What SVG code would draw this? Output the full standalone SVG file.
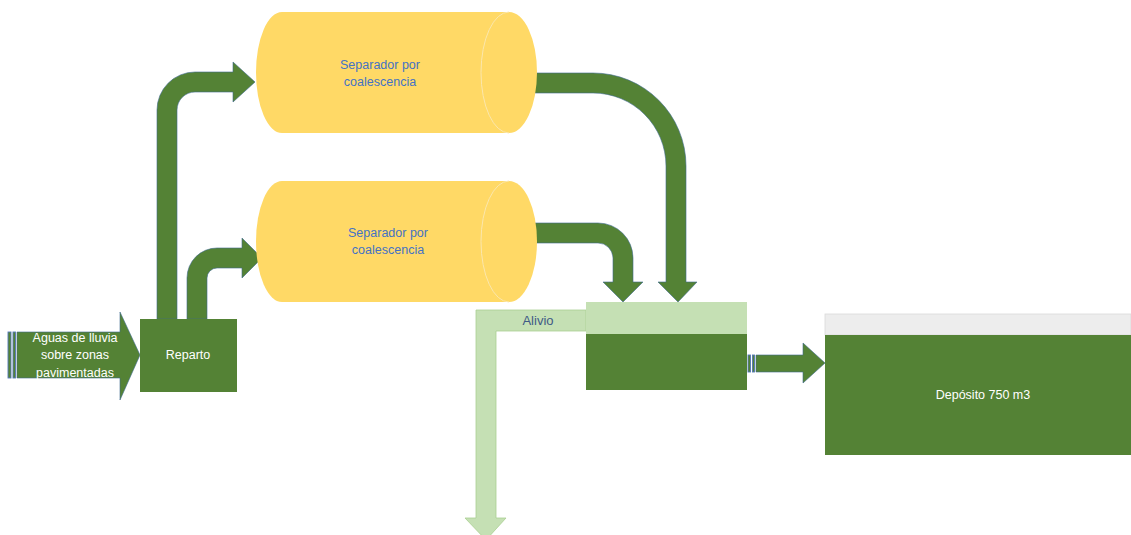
<svg xmlns="http://www.w3.org/2000/svg" width="1131" height="535" viewBox="0 0 1131 535">
<style>
.dk{fill:#548235;stroke:#3E6A8F;stroke-width:0.6}
.st{fill:#548235;stroke:#5478B8;stroke-width:0.9}
.box{fill:#548235}
.lt{fill:#C5E0B4;stroke:#A9CF92;stroke-width:0.8}
.cyl{fill:#FFD966}
.cap{fill:none;stroke:#FBE7AC;stroke-width:1}
.wt{font-family:"Liberation Sans",Arial,sans-serif;font-size:12.5px;fill:#FFFFFF;text-anchor:middle}
.bt{font-family:"Liberation Sans",Arial,sans-serif;font-size:12.5px;fill:#4472C4;text-anchor:middle}
.at{font-family:"Liberation Sans",Arial,sans-serif;font-size:13px;fill:#3F5A85;text-anchor:middle}
</style>
<rect width="1131" height="535" fill="#FFFFFF"/>
<g id="connectors">
<path class="dk" d="M 157 319 L 157 110 A 38 38 0 0 1 195 72 L 233 72 L 233 62 L 255 82 L 233 102 L 233 92 L 195 92 A 18 18 0 0 0 177 110 L 177 319 Z"/>
<path class="dk" d="M 187 319 L 187 278 A 30 30 0 0 1 217 248 L 242 248 L 242 238 L 262 258 L 242 278 L 242 268 L 217 268 A 10 10 0 0 0 207 278 L 207 319 Z"/>
<path class="dk" d="M 518 73 L 593 73 A 93 93 0 0 1 686 166 L 686 282 L 697 282 L 678 302 L 658 282 L 666 282 L 666 166 A 73 73 0 0 0 593 93 L 518 93 Z"/>
<path class="dk" d="M 517 223 L 598 223 A 35 35 0 0 1 633 258 L 633 282 L 643 282 L 623 302 L 603 282 L 613 282 L 613 258 A 15 15 0 0 0 598 243 L 517 243 Z"/>
<g id="alivio">
<path class="lt" d="M 586 310 L 476 310 L 476 518 L 465 518 L 486 540 L 506 518 L 496 518 L 496 331 L 586 331 Z"/>
<text class="at" x="538" y="325">Alivio</text>
</g>
<g id="salida">
<rect class="st" x="748" y="355" width="2.5" height="17"/>
<rect class="st" x="752.5" y="355" width="2" height="17"/>
<path class="dk" d="M 756 355 L 803 355 L 803 343 L 825 363 L 803 383 L 803 372 L 756 372 Z"/>
</g>
</g>
<g id="entrada">
<rect class="st" x="8" y="332" width="3" height="46"/>
<rect class="st" x="13" y="332" width="2.5" height="46"/>
<path class="dk" d="M 17 332 L 120 332 L 120 312 L 140 355 L 120 400 L 120 378 L 17 378 Z"/>
<text class="wt" x="75" y="342">Aguas de lluvia</text>
<text class="wt" x="75" y="359">sobre zonas</text>
<text class="wt" x="75" y="377">pavimentadas</text>
</g>
<g id="reparto">
<rect class="box" x="140" y="319" width="97" height="73"/>
<text class="wt" x="188" y="359">Reparto</text>
</g>
<g id="separador1">
<path class="cyl" d="M 282 12 L 509 12 A 28 60.5 0 0 1 509 133 L 282 133 A 26 60.5 0 0 1 282 12 Z"/>
<path class="cap" d="M 509 12 A 28 60.5 0 0 0 509 133"/>
<text class="bt" x="380" y="69">Separador por</text>
<text class="bt" x="380" y="86">coalescencia</text>
</g>
<g id="separador2">
<path class="cyl" d="M 282 181 L 509 181 A 28 60.5 0 0 1 509 302 L 282 302 A 26 60.5 0 0 1 282 181 Z"/>
<path class="cap" d="M 509 181 A 28 60.5 0 0 0 509 302"/>
<text class="bt" x="388" y="237">Separador por</text>
<text class="bt" x="388" y="254">coalescencia</text>
</g>
<g id="arqueta">
<rect x="586" y="302" width="161" height="32" fill="#C5E0B4"/>
<rect class="box" x="586" y="334" width="161" height="56"/>
</g>
<g id="deposito">
<rect x="825" y="314" width="306" height="21" fill="#EDEDED" stroke="#D9D9D9" stroke-width="0.8"/>
<rect class="box" x="825" y="335" width="306" height="120"/>
<text class="wt" x="983" y="399">Depósito 750 m3</text>
</g>
</svg>
